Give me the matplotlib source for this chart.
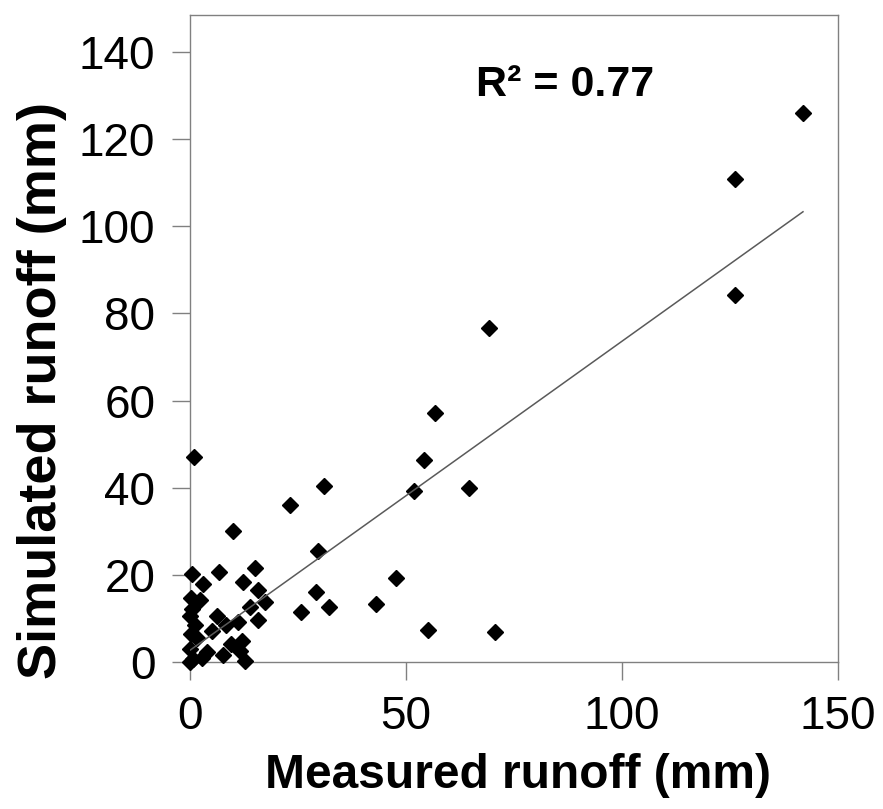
import matplotlib.pyplot as plt
import numpy as np

# measured vs simulated runoff (mm)
measured = [141.9, 126.2, 126.2, 69.2, 56.7, 54.2, 51.9, 64.6, 31.0, 23.1,
            10.0, 29.6, 47.7, 29.2, 43.1, 32.2, 25.7, 55.1, 70.5, 0.9,
            0.5, 6.8, 2.9, 15.0, 12.3, 15.7, 2.3, 17.3, 13.9, 0.5,
            15.7, 6.2, 0.0, 11.1, 8.3, 1.2, 5.0, 1.5, 9.4, 12.0,
            0.0, 3.9, 7.7, 0.7, 0.0, 12.7, 2.7, 0.2, 0.3, 11.5]
simulated = [126.0, 110.9, 84.2, 76.7, 57.1, 46.4, 39.2, 39.9, 40.4, 36.0,
             30.1, 25.5, 19.3, 16.1, 13.3, 12.6, 11.5, 7.3, 6.9, 47.0,
             20.3, 20.6, 18.0, 21.6, 18.4, 16.5, 14.2, 13.8, 12.6, 12.1,
             9.6, 10.6, 10.5, 9.1, 8.5, 8.6, 7.2, 5.6, 4.2, 4.8,
             3.0, 2.4, 1.6, 0.6, 0.0, 0.3, 1.0, 6.5, 14.8, 2.5]

# linear trendline as drawn in the reference
trend_slope = 0.709
trend_intercept = 2.7
r2_label = "R\u00b2 = 0.77"

x_ticks = [0, 50, 100, 150]
y_ticks = [0, 20, 40, 60, 80, 100, 120, 140]

plt.rcParams['font.family'] = ['Liberation Sans', 'DejaVu Sans']

fig = plt.figure(figsize=(8.83, 8.09), dpi=100)
ax = fig.add_axes([0.2152, 0.1817, 0.7338, 0.8000])

ax.plot(measured, simulated, linestyle="None", marker="D", markersize=8.3,
        color="black", markeredgecolor="black", clip_on=False, zorder=3)

xs = np.array([min(measured), max(measured)])
ax.plot(xs, trend_slope * xs + trend_intercept, color="#5a5a5a",
        linewidth=1.1, zorder=4)

ax.set_xlim(0, 150)
ax.set_ylim(0, 148.5)
ax.set_xticks(x_ticks)
ax.set_yticks(y_ticks)
ax.tick_params(axis="both", labelsize=33, length=13, width=1,
               color="#808080")
ax.tick_params(axis="x", pad=11)
ax.tick_params(axis="y", pad=12)

for side in ["left", "bottom", "top", "right"]:
    ax.spines[side].set_color("#808080")
    ax.spines[side].set_linewidth(1)

ax.set_xlabel("Measured runoff (mm)", fontsize=34.5, fontweight="bold")
ax.xaxis.set_label_coords(0.506, -0.14)
ax.set_ylabel("Simulated runoff (mm)", fontsize=39, fontweight="bold")
ax.yaxis.set_label_coords(-0.19, 0.42)

ax.text(0.579, 0.892, r2_label, transform=ax.transAxes, fontsize=31,
        fontweight="bold", ha="center", va="center")

fig.savefig("out.png", dpi=100)
